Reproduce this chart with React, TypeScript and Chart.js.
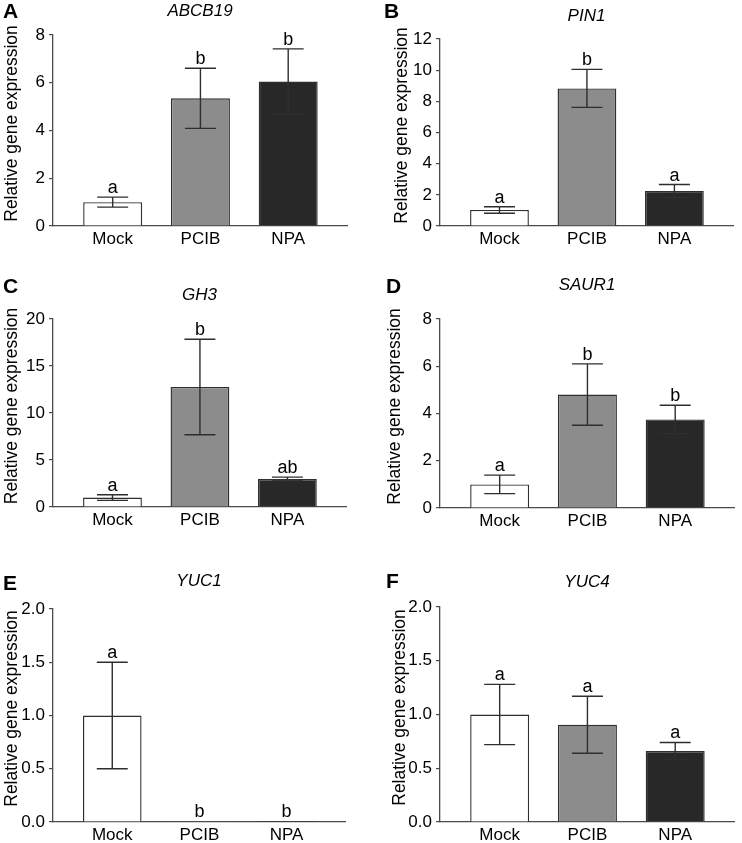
import { useEffect, useRef } from 'react';
import { Chart, registerables } from 'chart.js';

Chart.register(...registerables);

// ---------- data ----------
const categories = ['Mock', 'PCIB', 'NPA'];
const barColors = ['#ffffff', '#8c8c8c', '#282828'];

const abcb19Mean = [1.0, 5.35, 6.05];
const abcb19Err = [0.21, 1.26, 1.37];
const abcb19Sig = ['a', 'b', 'b'];

const pin1Mean = [1.03, 8.83, 2.25];
const pin1Err = [0.21, 1.22, 0.41];
const pin1Sig = ['a', 'b', 'a'];

const gh3Mean = [1.0, 12.77, 2.98];
const gh3Err = [0.3, 5.08, 0.2];
const gh3Sig = ['a', 'b', 'ab'];

const saur1Mean = [1.0, 4.8, 3.75];
const saur1Err = [0.39, 1.3, 0.6];
const saur1Sig = ['a', 'b', 'b'];

const yuc1Mean = [1.0, 0.01, 0.01];
const yuc1Err = [0.5, 0, 0];
const yuc1Sig = ['a', 'b', 'b'];

const yuc4Mean = [1.0, 0.905, 0.66];
const yuc4Err = [0.28, 0.265, 0.08];
const yuc4Sig = ['a', 'a', 'a'];

const yMaxes = [8, 12, 20, 8, 2, 2];
const ySteps = [2, 2, 5, 2, 0.5, 0.5];
const yDecimals = [0, 0, 0, 0, 1, 1];

const panelLetters = ['A', 'B', 'C', 'D', 'E', 'F'];
const geneNames = ['ABCB19', 'PIN1', 'GH3', 'SAUR1', 'YUC1', 'YUC4'];
const yAxisTitle = 'Relative gene expression';

// ---------- layout (positions / sizes) ----------
const FONT = "'Liberation Sans', Arial, Helvetica, sans-serif";
const layouts = [
  { left: 0, top: 0, w: 371, h: 260, yW: 53, padTop: 35, padRight: 24, xH: 34, letterX: 3, letterY: 18, titleY: 11, yTitleX: 12 },
  { left: 371, top: 0, w: 371, h: 260, yW: 69, padTop: 39, padRight: 9, xH: 34, letterX: 13, letterY: 18, titleY: 16, yTitleX: 31 },
  { left: 0, top: 270, w: 371, h: 271, yW: 53, padTop: 49, padRight: 25, xH: 34, letterX: 3, letterY: 23, titleY: 25, yTitleX: 12 },
  { left: 371, top: 270, w: 371, h: 272, yW: 69, padTop: 49, padRight: 8, xH: 34, letterX: 15, letterY: 23, titleY: 15, yTitleX: 24 },
  { left: 0, top: 560, w: 371, h: 283, yW: 53, padTop: 49, padRight: 26, xH: 21, letterX: 3, letterY: 30, titleY: 21, yTitleX: 12 },
  { left: 371, top: 560, w: 371, h: 283, yW: 69, padTop: 47, padRight: 8, xH: 21, letterX: 15, letterY: 28, titleY: 22, yTitleX: 29 },
];

const panels = [
  { mean: abcb19Mean, err: abcb19Err, sig: abcb19Sig },
  { mean: pin1Mean, err: pin1Err, sig: pin1Sig },
  { mean: gh3Mean, err: gh3Err, sig: gh3Sig },
  { mean: saur1Mean, err: saur1Err, sig: saur1Sig },
  { mean: yuc1Mean, err: yuc1Err, sig: yuc1Sig },
  { mean: yuc4Mean, err: yuc4Err, sig: yuc4Sig },
];

const X_MIN = -0.68;
const X_MAX = 2.67;
const AXIS_COLOR = '#4a4a4a';
const TEXT_COLOR = '#000000';

function Panel({ idx }: { idx: number }) {
  const ref = useRef<HTMLCanvasElement | null>(null);
  const L = layouts[idx];
  const P = panels[idx];

  useEffect(() => {
    const canvas = ref.current;
    if (!canvas) return;

    const overlay = {
      id: 'overlay' + idx,
      afterDatasetsDraw(chart: any) {
        const ctx = chart.ctx;
        const xs = chart.scales.x;
        const ys = chart.scales.y;
        ctx.save();
        ctx.strokeStyle = '#2e2e2e';
        ctx.lineWidth = 1.4;
        ctx.fillStyle = TEXT_COLOR;
        ctx.font = `18px ${FONT}`;
        ctx.textAlign = 'center';
        ctx.textBaseline = 'alphabetic';
        P.mean.forEach((m: number, i: number) => {
          const e = P.err[i];
          const x = xs.getPixelForValue(i);
          const yT = ys.getPixelForValue(m + e);
          const yB = ys.getPixelForValue(m - e);
          if (e > 0) {
            ctx.beginPath();
            ctx.moveTo(x, yT);
            ctx.lineTo(x, yB);
            ctx.moveTo(x - 15.5, yT);
            ctx.lineTo(x + 15.5, yT);
            ctx.moveTo(x - 15.5, yB);
            ctx.lineTo(x + 15.5, yB);
            ctx.stroke();
          }
          ctx.fillText(P.sig[i], x, yT - 4);
        });
        ctx.restore();
      },
      afterDraw(chart: any) {
        const ctx = chart.ctx;
        const area = chart.chartArea;
        ctx.save();
        ctx.fillStyle = '#000000';
        // panel letter
        ctx.font = `bold 21px ${FONT}`;
        ctx.textAlign = 'left';
        ctx.textBaseline = 'alphabetic';
        ctx.fillText(panelLetters[idx], L.letterX, L.letterY);
        // gene name
        ctx.fillStyle = TEXT_COLOR;
        ctx.font = `italic 17px ${FONT}`;
        ctx.textAlign = 'center';
        ctx.textBaseline = 'middle';
        ctx.fillText(geneNames[idx], (area.left + area.right) / 2, L.titleY);
        // y-axis title
        ctx.font = `17.5px ${FONT}`;
        ctx.translate(L.yTitleX, (area.top + area.bottom) / 2 - 7);
        ctx.rotate(-Math.PI / 2);
        ctx.fillText(yAxisTitle, 0, 0);
        ctx.restore();
      },
    };

    const chart = new Chart(canvas, {
      type: 'bar',
      data: {
        datasets: [
          {
            data: P.mean.map((v: number, i: number) => ({ x: i, y: v })),
            backgroundColor: barColors,
            borderColor: '#2e2e2e',
            borderWidth: 1.4,
            barPercentage: 0.84,
            categoryPercentage: 0.8,
          },
        ],
      },
      options: {
        animation: false,
        responsive: false,
        maintainAspectRatio: false,
        devicePixelRatio: 1,
        layout: { padding: { top: L.padTop, right: L.padRight, left: 0, bottom: 0 } },
        plugins: {
          legend: { display: false },
          tooltip: { enabled: false },
          title: { display: false },
        },
        scales: {
          x: {
            type: 'linear',
            offset: false,
            min: X_MIN,
            max: X_MAX,
            afterBuildTicks: (s: any) => {
              s.ticks = categories.map((_, i) => ({ value: i }));
            },
            afterFit: (s: any) => {
              s.height = L.xH;
            },
            grid: { display: false, drawTicks: false, offset: false },
            border: { display: true, color: AXIS_COLOR, width: 1.3 },
            ticks: {
              padding: 3,
              autoSkip: false,
              maxRotation: 0,
              color: TEXT_COLOR,
              font: { family: FONT, size: 17 },
              callback: (v: any) => categories[Math.round(Number(v))] ?? '',
            },
          },
          y: {
            min: 0,
            max: yMaxes[idx],
            afterFit: (s: any) => {
              s.width = L.yW;
            },
            grid: { display: true, drawOnChartArea: false, drawTicks: true, tickLength: 4, color: AXIS_COLOR, lineWidth: 1.2 },
            border: { display: true, color: AXIS_COLOR, width: 1.3 },
            ticks: {
              stepSize: ySteps[idx],
              padding: 4,
              color: TEXT_COLOR,
              font: { family: FONT, size: 17 },
              callback: (v: any) => Number(v).toFixed(yDecimals[idx]),
            },
          },
        },
      },
      plugins: [overlay],
    } as any);

    return () => {
      chart.destroy();
    };
  }, [idx]);

  return (
    <canvas
      ref={ref}
      width={L.w}
      height={L.h}
      style={{ position: 'absolute', left: L.left, top: L.top, width: L.w, height: L.h }}
    />
  );
}

export default function App() {
  return (
    <div style={{ position: 'absolute', left: 0, top: 0, width: 742, height: 843, background: '#ffffff', overflow: 'hidden' }}>
      {panels.map((_, i) => (
        <Panel key={i} idx={i} />
      ))}
    </div>
  );
}
